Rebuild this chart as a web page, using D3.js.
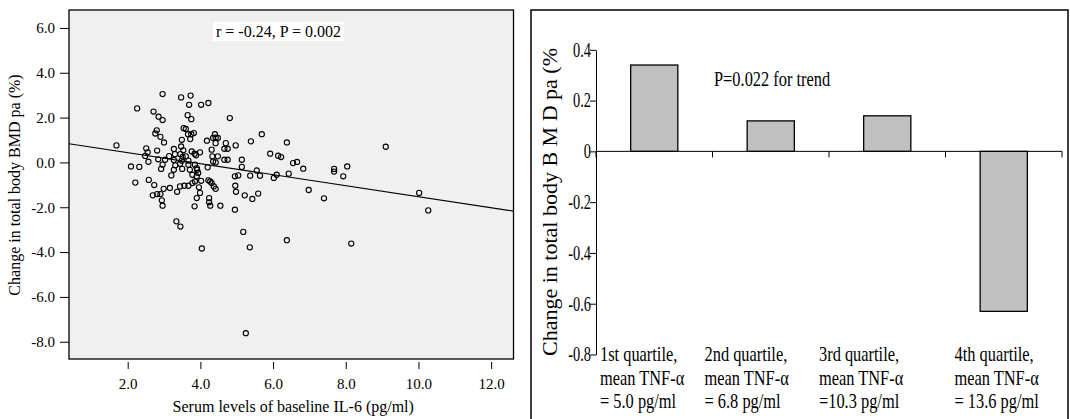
<!DOCTYPE html>
<html>
<head>
<meta charset="utf-8">
<script src="https://cdn.jsdelivr.net/npm/d3@7"></script>
<style>
  body { margin: 0; background: #fff; }
  svg { display: block; }
  text { font-family: "Liberation Serif", "Times New Roman", serif; fill: #000; }
</style>
</head>
<body>
<div id="chart"></div>
<script>
// left panel: baseline IL-6 vs change in total body BMD pa, one entry per subject
var il6 = [
    1.69, 2.26, 2.71, 2.85, 2.96, 2.96, 3.47, 3.73, 3.69, 4.02, 3.65, 3.75, 2.80, 2.76, 2.90,
    3.00, 3.54, 3.60, 3.66, 3.75, 3.82, 3.49, 3.72, 2.51, 2.55, 2.81, 3.27, 3.47, 3.76, 3.99,
    3.84, 2.48, 3.30, 3.14, 3.45, 3.60, 2.84, 2.57, 3.03, 3.27, 3.49, 3.67, 3.88, 2.09, 2.32,
    2.21, 2.58, 2.73, 2.69, 2.81, 2.90, 2.99, 3.16, 2.94, 2.96, 3.36, 3.44, 3.56, 3.67, 3.78,
    3.85, 4.02, 3.90, 3.94, 3.91, 3.90, 3.96, 3.99, 3.90, 3.84, 3.34, 3.45, 4.04, 3.20, 3.27,
    3.31, 2.92, 2.96, 3.51, 3.53, 3.44, 3.50, 3.67, 3.71, 3.78, 3.85, 4.20, 4.33, 4.48, 4.35,
    4.42, 4.31, 4.66, 4.75, 4.66, 4.75, 5.14, 5.14, 4.22, 4.27, 4.31, 4.37, 4.42, 4.24, 4.24,
    4.27, 4.55, 4.95, 5.04, 4.96, 4.98, 5.22, 5.43, 5.59, 4.95, 5.37, 5.55, 5.64, 5.92, 6.14,
    6.22, 6.55, 6.66, 6.83, 6.02, 6.10, 6.43, 5.18, 5.36, 6.38, 4.22, 4.81, 4.40, 4.42, 4.35,
    4.48, 4.18, 4.42, 4.70, 4.97, 5.39, 5.69, 6.38, 9.10, 7.68, 7.68, 8.04, 7.93, 6.98, 7.40,
    10.02, 10.27, 8.15, 5.25
];
var bmdChange = [
    0.76, 2.41, 2.27, 2.04, 1.89, 3.05, 2.90, 2.98, 2.57, 2.57, 2.11, 1.93, 1.43, 1.29, 1.14,
    0.89, 1.53, 1.49, 1.26, 1.26, 1.31, 1.01, 1.04, 0.63, 0.45, 0.53, 0.60, 0.71, 0.49, 0.45,
    0.39, 0.29, 0.37, 0.28, 0.37, 0.27, 0.14, 0.03, 0.12, 0.11, 0.08, 0.08, 0.32, -0.18, -0.20,
    -0.90, -0.78, -1.01, -1.47, -1.41, -1.41, -1.18, -1.14, -1.69, -1.93, -1.31, -1.07, -1.04, -1.04, -0.92,
    -0.85, -0.82, -0.62, -0.47, -0.33, -0.25, -1.11, -1.36, -1.59, -1.96, -2.63, -2.86, -3.84, -0.58, -0.33,
    -0.13, -0.29, -0.10, 0.25, 0.54, -0.06, -0.29, -0.10, -0.33, -0.55, -0.10, -0.22, 0.27, 0.27, 0.04,
    0.00, 0.57, 0.61, 0.61, 0.12, 0.12, 0.12, -0.20, -0.80, -0.85, -0.92, -1.07, -1.18, -1.59, -1.78,
    -1.93, -1.93, -0.62, -0.58, -1.04, -1.31, -1.47, -1.63, -1.39, -2.11, -0.59, -0.36, -0.59, 0.39, 0.30,
    0.24, -0.03, 0.02, -0.28, -0.69, -0.55, -0.50, -3.10, -3.79, -3.47, 2.65, 1.98, 1.26, 1.11, 1.09,
    1.09, 0.97, 0.86, 0.86, 0.76, 0.94, 1.26, 0.89, 0.70, -0.29, -0.41, -0.18, -0.62, -1.23, -1.60,
    -1.36, -2.14, -3.62, -7.62
];
var fitIntercept = 0.93;
var fitSlope = -0.246;
var scatterXTicks = [2, 4, 6, 8, 10, 12];
var scatterYTicks = [-8, -6, -4, -2, 0, 2, 4, 6];
var statText = "r = -0.24, P = 0.002";

// right panel: mean change by TNF-alpha quartile
var quartileNames = ["1st quartile,", "2nd quartile,", "3rd quartile,", "4th quartile,"];
var quartileMeans = ["= 5.0 pg/ml", "= 6.8 pg/ml", "=10.3 pg/ml", "= 13.6 pg/ml"];
var bmdByQuartile = [0.34, 0.12, 0.14, -0.63];
var barTicks = [0.4, 0.2, 0, -0.2, -0.4, -0.6, -0.8];
var trendText = "P=0.022 for trend";

var width = 1070;
var height = 419;

var fmt = d3.formatLocale({decimal: ".", thousands: ",", grouping: [3], currency: ["", ""], minus: "-"});

var svg = d3.select("#chart")
    .append("svg")
    .attr("width", width)
    .attr("height", height);

// ---------- scatter ----------
var plot = {left: 69, right: 513.5, top: 10, bottom: 359};

var x_scale = d3.scaleLinear()
    .domain([0.385, 12.615])
    .range([plot.left, plot.right]);
var y_scale = d3.scaleLinear()
    .domain([-8.77, 6.8])
    .range([plot.bottom, plot.top]);

var sc = svg.append("g").attr("class", "scatter");

sc.append("rect")
    .attr("x", plot.left)
    .attr("y", plot.top)
    .attr("width", plot.right - plot.left)
    .attr("height", plot.bottom - plot.top)
    .attr("fill", "#f0f0f0");

var xd = x_scale.domain();
sc.append("line")
    .attr("x1", x_scale(xd[0]))
    .attr("y1", y_scale(fitIntercept + fitSlope * xd[0]))
    .attr("x2", x_scale(xd[1]))
    .attr("y2", y_scale(fitIntercept + fitSlope * xd[1]))
    .attr("stroke", "#000")
    .attr("stroke-width", 1.1);

sc.selectAll("circle.pt")
    .data(d3.zip(il6, bmdChange))
    .join("circle")
    .attr("class", "pt")
    .attr("cx", function(d){ return x_scale(d[0]); })
    .attr("cy", function(d){ return y_scale(d[1]); })
    .attr("r", 2.6)
    .attr("fill", "none")
    .attr("stroke", "#000")
    .attr("stroke-width", 1.1);

sc.append("rect")
    .attr("x", plot.left)
    .attr("y", plot.top)
    .attr("width", plot.right - plot.left)
    .attr("height", plot.bottom - plot.top)
    .attr("fill", "none")
    .attr("stroke", "#000")
    .attr("stroke-width", 1.3);

var y_axis = d3.axisLeft(y_scale)
    .tickValues(scatterYTicks)
    .tickFormat(fmt.format(".1f"))
    .tickSize(9)
    .tickPadding(5)
    .tickSizeOuter(0);

sc.append("g")
    .attr("transform", "translate(" + plot.left + ",0)")
    .call(y_axis)
    .attr("font-size", 15)
    .attr("font-family", null)
    .call(function(g){ g.select(".domain").remove(); });

var x_axis = d3.axisBottom(x_scale)
    .tickValues(scatterXTicks)
    .tickFormat(fmt.format(".1f"))
    .tickSize(7)
    .tickPadding(9)
    .tickSizeOuter(0);

sc.append("g")
    .attr("transform", "translate(0," + (plot.bottom + 3) + ")")
    .call(x_axis)
    .attr("font-size", 15)
    .attr("font-family", null)
    .call(function(g){ g.select(".domain").remove(); });

sc.append("text")
    .attr("x", (plot.left + plot.right) / 2 + 2)
    .attr("y", 412)
    .attr("text-anchor", "middle")
    .attr("font-size", 16)
    .text("Serum levels of baseline IL-6 (pg/ml)");

sc.append("text")
    .attr("transform", "translate(20,185) rotate(-90)")
    .attr("text-anchor", "middle")
    .attr("font-size", 16)
    .text("Change in total body BMD pa (%)");

sc.append("rect")
    .attr("x", 213)
    .attr("y", 22)
    .attr("width", 131)
    .attr("height", 19)
    .attr("fill", "#fff");

sc.append("text")
    .attr("x", 278.5)
    .attr("y", 37)
    .attr("text-anchor", "middle")
    .attr("font-size", 16)
    .text(statText);

// ---------- bars ----------
var bp = {left: 596, right: 1062, top: 49.8, bottom: 354.5};
var squeeze = 0.78;

var band = d3.scaleBand()
    .domain(quartileNames)
    .range([bp.left, bp.right]);
var bar_y = d3.scaleLinear()
    .domain([-0.8, 0.4])
    .range([bp.bottom, bp.top]);

var bc = svg.append("g").attr("class", "bars");

bc.append("rect")
    .attr("x", 531)
    .attr("y", 10)
    .attr("width", 537)
    .attr("height", 430)
    .attr("fill", "none")
    .attr("stroke", "#000")
    .attr("stroke-width", 1.5);

var barW = band.bandwidth() * 0.405;
bc.selectAll("rect.bar")
    .data(bmdByQuartile)
    .join("rect")
    .attr("class", "bar")
    .attr("x", function(d, i){ return band(quartileNames[i]) + (band.bandwidth() - barW) / 2; })
    .attr("y", function(d){ return bar_y(Math.max(0, d)); })
    .attr("width", barW)
    .attr("height", function(d){ return Math.abs(bar_y(d) - bar_y(0)); })
    .attr("fill", "#c0c0c0")
    .attr("stroke", "#000")
    .attr("stroke-width", 1.3);

// zero line with ticks at band edges
bc.append("line")
    .attr("x1", bp.left)
    .attr("x2", bp.right)
    .attr("y1", bar_y(0))
    .attr("y2", bar_y(0))
    .attr("stroke", "#000")
    .attr("stroke-width", 1);

var edges = [bp.left].concat(quartileNames.map(function(d){ return band(d) + band.bandwidth(); }));
bc.selectAll("line.edge")
    .data(edges)
    .join("line")
    .attr("class", "edge")
    .attr("x1", function(d){ return d; })
    .attr("x2", function(d){ return d; })
    .attr("y1", bar_y(0))
    .attr("y2", bar_y(0) + 6)
    .attr("stroke", "#000")
    .attr("stroke-width", 1);

var tickSqueeze = 0.72;
var bar_axis = d3.axisLeft(bar_y)
    .tickValues(barTicks)
    .tickFormat(function(d){ return d === 0 ? "0" : fmt.format(".1f")(d); })
    .tickSize(6)
    .tickPadding(0)
    .tickSizeOuter(0);

bc.append("g")
    .attr("transform", "translate(" + bp.left + ",0)")
    .call(bar_axis)
    .attr("font-size", 20)
    .attr("font-family", null)
    .call(function(g){
        g.selectAll(".tick text")
            .attr("transform", "scale(" + tickSqueeze + ",1)")
            .attr("x", -5 / tickSqueeze);
    });

bc.append("text")
    .attr("transform", "translate(557,202) rotate(-90)")
    .attr("text-anchor", "middle")
    .attr("font-size", 22)
    .text("Change in total body B M D pa (%");

bc.append("text")
    .attr("transform", "translate(714,86) scale(" + squeeze + ",1)")
    .attr("font-size", 21)
    .text(trendText);

// category labels, three lines each; small nudges follow the original text boxes
var labelNudge = [4, -8, -10, 9];
var labels = bc.selectAll("g.qlabel")
    .data(quartileNames)
    .join("g")
    .attr("class", "qlabel")
    .attr("transform", function(d, i){ return "translate(" + (band(d) + labelNudge[i]) + ",0) scale(" + 0.82 + ",1)"; });

labels.append("text").attr("y", 361).attr("font-size", 20).text(function(d){ return d; });
labels.append("text").attr("y", 385).attr("font-size", 20).text("mean TNF-\u03b1");
labels.append("text").attr("y", 408).attr("font-size", 20).text(function(d, i){ return quartileMeans[i]; });
</script>
</body>
</html>
